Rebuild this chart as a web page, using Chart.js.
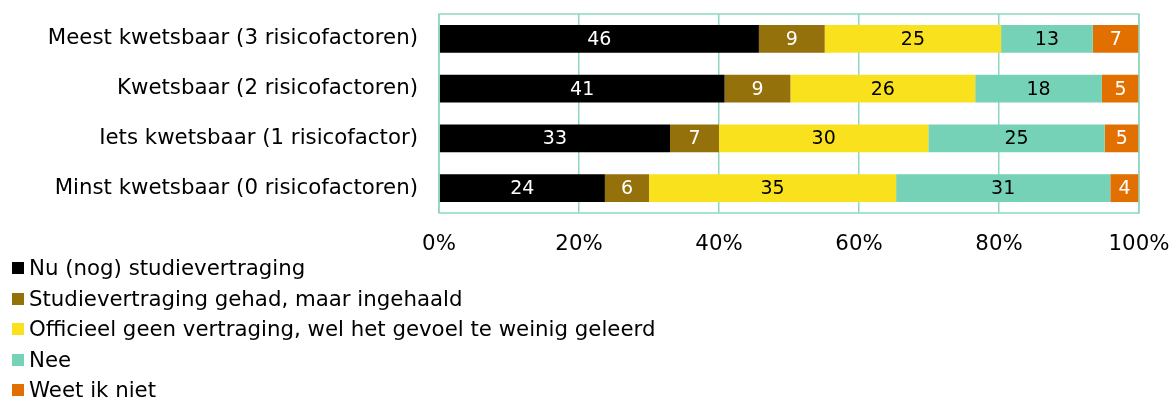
<!DOCTYPE html>
<html lang="nl">
<head>
  <meta charset="UTF-8">
  <title>Studievertraging naar kwetsbaarheid</title>
  <script src="https://cdn.jsdelivr.net/npm/chart.js@4"></script>
  <style>
    body { margin:0; background:#fff; font-family:'DejaVu Sans',sans-serif; }
    .wrap { position:relative; width:1173px; height:401px; }
    #chart { position:absolute; left:0; top:0; }
    .legend { position:absolute; left:12px; top:253px; margin:0; padding:0; list-style:none; font-size:21.3px; color:#000; }
    .legend li { height:30.5px; line-height:30.5px; display:flex; align-items:center; white-space:nowrap; }
    .legend span { display:inline-block; width:12px; height:12px; margin-right:5px; }
  </style>
</head>
<body>
<div class="wrap">
  <canvas id="chart" width="1173" height="260"></canvas>
  <ul id="legend" class="legend"></ul>
</div>

<script>
// data (percentages per group)
const categories = [
  'Meest kwetsbaar (3 risicofactoren)',
  'Kwetsbaar (2 risicofactoren)',
  'Iets kwetsbaar (1 risicofactor)',
  'Minst kwetsbaar (0 risicofactoren)'
];
const seriesNames = [
  'Nu (nog) studievertraging',
  'Studievertraging gehad, maar ingehaald',
  'Officieel geen vertraging, wel het gevoel te weinig geleerd',
  'Nee',
  'Weet ik niet'
];
const nuVertraging   = [45.7, 40.8, 33.0, 23.7];
const ingehaald      = [9.4, 9.4, 7.0, 6.3];
const weinigGeleerd  = [25.2, 26.4, 29.9, 35.3];
const nee            = [13.1, 18.1, 25.2, 30.6];
const weetNiet       = [6.6, 5.3, 4.9, 4.1];
const xTicks = [0, 20, 40, 60, 80, 100];

const colors = ['#000000', '#94710A', '#F9E11E', '#76D2B6', '#E17000'];
const labelColors = ['#fff', '#fff', '#000', '#000', '#fff'];
const gridColor = '#8ED8C2';
const FONT = "'DejaVu Sans', sans-serif";

const allSeries = [nuVertraging, ingehaald, weinigGeleerd, nee, weetNiet];

// labels inside the bars
const barLabels = {
  id: 'barLabels',
  afterDatasetsDraw(chart) {
    const ctx = chart.ctx;
    ctx.save();
    ctx.font = '19px ' + FONT;
    ctx.textAlign = 'center';
    ctx.textBaseline = 'middle';
    chart.data.datasets.forEach((ds, i) => {
      chart.getDatasetMeta(i).data.forEach((bar, j) => {
        const x = (bar.x + bar.base) / 2;
        ctx.fillStyle = labelColors[i];
        ctx.fillText(Math.round(ds.data[j]), x, bar.y + 1);
      });
    });
    ctx.restore();
  }
};

// frame around the plot area
const frame = {
  id: 'frame',
  afterDraw(chart) {
    const a = chart.chartArea, ctx = chart.ctx;
    ctx.save();
    ctx.strokeStyle = gridColor;
    ctx.lineWidth = 1.5;
    ctx.strokeRect(a.left, a.top, a.right - a.left, a.bottom - a.top);
    ctx.restore();
  }
};

new Chart(document.getElementById('chart'), {
  type: 'bar',
  data: {
    labels: categories,
    datasets: allSeries.map((d, i) => ({
      label: seriesNames[i],
      data: d,
      backgroundColor: colors[i],
      borderWidth: 0,
      categoryPercentage: 1,
      barPercentage: 0.56
    }))
  },
  options: {
    indexAxis: 'y',
    responsive: false,
    animation: false,
    layout: { padding: { top: 14, right: 34, left: 0, bottom: 0 } },
    plugins: { legend: { display: false }, tooltip: { enabled: false } },
    scales: {
      x: {
        stacked: true,
        min: 0, max: 100,
        afterBuildTicks: s => { s.ticks = xTicks.map(v => ({ value: v })); },
        afterFit: s => { s.height = 47; s.paddingLeft = 0; s.paddingRight = 0; },
        grid: { color: gridColor, lineWidth: 1.5, drawTicks: false },
        border: { display: false },
        ticks: {
          padding: 19,
          color: '#000',
          font: { family: FONT, size: 21.3 },
          callback: v => v + '%'
        }
      },
      y: {
        stacked: true,
        afterFit: s => { s.width = 439; s.paddingTop = 0; s.paddingBottom = 0; },
        grid: { display: false, drawTicks: false },
        border: { display: false },
        ticks: {
          padding: 21,
          color: '#000',
          font: { family: FONT, size: 21.3 }
        }
      }
    }
  },
  plugins: [barLabels, frame]
});

// legend as a vertical list
const legend = document.getElementById('legend');
seriesNames.forEach((name, i) => {
  const li = document.createElement('li');
  li.innerHTML = `<span style="background:${colors[i]}"></span>${name}`;
  legend.appendChild(li);
});
</script>
</body>
</html>
